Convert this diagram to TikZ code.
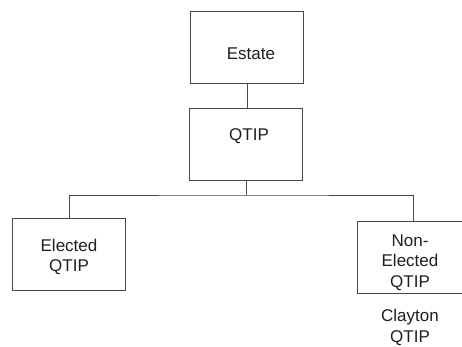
\documentclass[tikz,border=0pt]{standalone}
\usepackage{fontspec}
\setmainfont{Liberation Sans}
\begin{document}
\begin{tikzpicture}[x=1bp,y=-1bp,
  box/.style={draw=black!72, line width=0.8bp, minimum width=113bp,
              minimum height=72bp, inner sep=0pt},
  wire/.style={draw=black!72, line width=0.8bp},
  lbl/.style={text=black!88, font=\fontsize{17bp}{20.5bp}\selectfont,
              inner sep=0pt, align=center}]
\useasboundingbox (0,0) rectangle (462,346);
\clip (0,0) rectangle (462,346);

% boxes of the tree
\node[box] (estate)  at (247,47.5)  {};
\node[box] (qtip)    at (246,143.9) {};
\node[box] (elected) at (69,254)    {};
\node[box] (nonel)   at (413.5,257) {};

% their labels
\node[lbl, anchor=base]  (estateT)  at (251,59)    {Estate};
\node[lbl, anchor=base]  (qtipT)    at (249,140)   {QTIP};
\node[lbl, anchor=north] (electedT) at (69,238.6)  {Elected\\QTIP};
\node[lbl, anchor=north] (nonelT)   at (410,234.4) {Non-\\Elected\\QTIP};
\node[lbl, anchor=north] (claytonT) at (410,309.4) {Clayton\\QTIP};

% connectors
\draw[wire] (estate.south) -- (estate.south |- qtip.north);
\coordinate (bus) at (246,195);
\draw[wire] (qtip.south) -- (bus);
\draw[wire] (elected.north) |- (bus) -| (nonel.north);
\end{tikzpicture}
\end{document}
